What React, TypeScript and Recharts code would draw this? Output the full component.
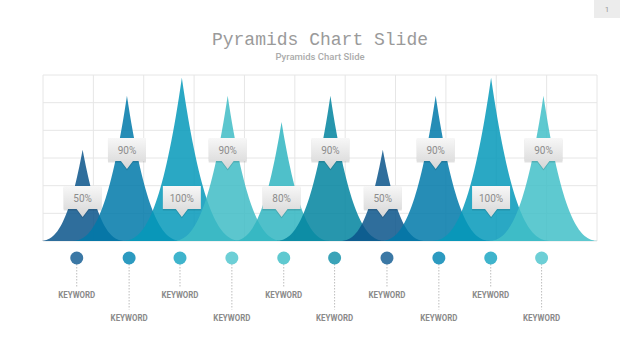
import { ComposedChart, Bar, XAxis, YAxis, CartesianGrid, LabelList } from 'recharts'

// where each pyramid peaks and where each keyword pin sits, in grid columns (0..11)
const PEAK_X = [0.79, 1.67, 2.76, 3.67, 4.74, 5.71, 6.75, 7.8, 8.9, 9.94]
const PIN_X = [0.67, 1.71, 2.72, 3.75, 4.78, 5.79, 6.83, 7.86, 8.89, 9.9]
const HEIGHTS = [66, 105, 118, 105, 86, 105, 66, 105, 118, 105]
const PERCENTS = ['50%', '90%', '100%', '90%', '80%', '90%', '50%', '90%', '100%', '90%']
const KEYWORDS = ['KEYWORD', 'KEYWORD', 'KEYWORD', 'KEYWORD', 'KEYWORD', 'KEYWORD', 'KEYWORD', 'KEYWORD', 'KEYWORD', 'KEYWORD']
const GRID_COLS = [0, 1, 2, 3, 4, 5, 6, 7, 8, 9, 10, 11]
const GRID_ROWS = [0, 20, 40, 60, 80, 100, 120]

const SHAPE_COLORS = ['#0b558b', '#0079a9', '#0599ba', '#40bcc6', '#30b5c1', '#01849f', '#0b558b', '#0079a9', '#0599ba', '#42bfc8']
const PIN_COLORS = ['#3b78a5', '#2c9ac0', '#3fb4cc', '#6dcfd6', '#5fc9d0', '#3aa3b8', '#3b78a5', '#2c9ac0', '#3fb4cc', '#6dcfd6']

const data = PEAK_X.map((x, i) => ({ x, h: HEIGHTS[i], pct: PERCENTS[i] }))

// concave "spike" drawn around the bar's centre, base widens with height
const Pyramid = (props: any) => {
  const { x, y, width, height, index } = props
  if (height == null || height <= 0) return null
  const cx = x + width / 2
  const base = y + height
  const w = 22 + 0.24 * height
  const p = 2.6
  const pts: string[] = []
  const n = 40
  for (let k = 0; k <= n; k++) {
    const t = 1 - k / n
    pts.push(`${cx - w * t},${base - height * Math.pow(1 - t, p)}`)
  }
  for (let k = n - 1; k >= 0; k--) {
    const t = 1 - k / n
    pts.push(`${cx + w * t},${base - height * Math.pow(1 - t, p)}`)
  }
  return <polygon points={pts.join(' ')} fill={SHAPE_COLORS[index]} fillOpacity={0.85} />
}

const Callout = (props: any) => {
  const vb = props.viewBox && props.viewBox.width != null ? props.viewBox : props
  const cx = vb.x + vb.width / 2
  const base = vb.y + vb.height
  const upper = props.index % 2 === 1
  const top = base - (upper ? 103 : 55)
  const bw = 38
  const bh = 23
  const d = `M${cx - bw / 2},${top} h${bw} v${bh} h${-(bw / 2 - 6)} l-6,8 l-6,-8 H${cx - bw / 2} Z`
  return (
    <g>
      <path d={d} transform="translate(0,1.5)" fill="#000" fillOpacity={0.12} />
      <path d={d} fill="url(#calloutFill)" />
      <text x={cx} y={top + 15.5} textAnchor="middle" fontFamily="Roboto" fontSize={10} fill="#8c8c8c">
        {props.value}
      </text>
    </g>
  )
}

const KeywordTick = (props: any) => {
  const { x, y, index } = props
  const low = index % 2 === 1
  const pinY = y - 13
  const labelY = y + (low ? 49.5 : 26.5)
  return (
    <g>
      <line x1={x} x2={x} y1={pinY} y2={labelY - 11} stroke="#bdbdbd" strokeDasharray="1.5 1.5" />
      <circle cx={x} cy={pinY} r={6.5} fill={PIN_COLORS[index]} />
      <text
        x={x}
        y={labelY}
        textAnchor="middle"
        fontFamily="Roboto"
        fontWeight={700}
        fontSize={9}
        fill="#8a8a8a"
        textLength={37}
        lengthAdjust="spacingAndGlyphs"
      >
        {KEYWORDS[index]}
      </text>
    </g>
  )
}

export default function App() {
  return (
    <div style={{ position: 'absolute', left: 0, top: 0, width: 640, height: 360, background: '#fff' }}>
      <ComposedChart width={640} height={360} data={data} margin={{ top: 75, right: 43, bottom: 19, left: 43 }}>
        <defs>
          <linearGradient id="calloutFill" x1="0" y1="0" x2="0" y2="1">
            <stop offset="0%" stopColor="#f7f7f7" />
            <stop offset="100%" stopColor="#d6d6d6" />
          </linearGradient>
        </defs>
        <CartesianGrid xAxisId="grid" stroke="#e6e6e6" />
        <XAxis xAxisId="grid" dataKey="x" type="number" domain={[0, 11]} ticks={GRID_COLS} hide />
        <XAxis
          xAxisId="kw"
          dataKey="x"
          type="number"
          domain={[0, 11]}
          ticks={PIN_X}
          height={100}
          axisLine={false}
          tickLine={false}
          tickSize={0}
          tickMargin={0}
          interval={0}
          tick={<KeywordTick />}
        />
        <YAxis type="number" domain={[0, 120]} ticks={GRID_ROWS} hide />
        <Bar xAxisId="kw" dataKey="h" barSize={10} shape={<Pyramid />} isAnimationActive={false}>
          <LabelList dataKey="pct" content={<Callout />} />
        </Bar>
      </ComposedChart>
      <div
        style={{
          position: 'absolute', left: 0, top: 29, width: 640, textAlign: 'center',
          fontFamily: '"Liberation Mono"', fontSize: 18, lineHeight: '22px', color: '#9a9a9a',
        }}
      >
        Pyramids Chart Slide
      </div>
      <div
        style={{
          position: 'absolute', left: 0, top: 51, width: 640, textAlign: 'center',
          fontFamily: 'Roboto', fontWeight: 500, fontSize: 9.5, lineHeight: '12px', color: '#ababab',
        }}
      >
        Pyramids Chart Slide
      </div>
      <div
        style={{
          position: 'absolute', left: 594, top: 0, width: 26, height: 18, background: '#ececec',
          fontFamily: 'Roboto', fontSize: 8, lineHeight: '20px', textAlign: 'center', color: '#9a9a9a',
        }}
      >
        1
      </div>
    </div>
  )
}
